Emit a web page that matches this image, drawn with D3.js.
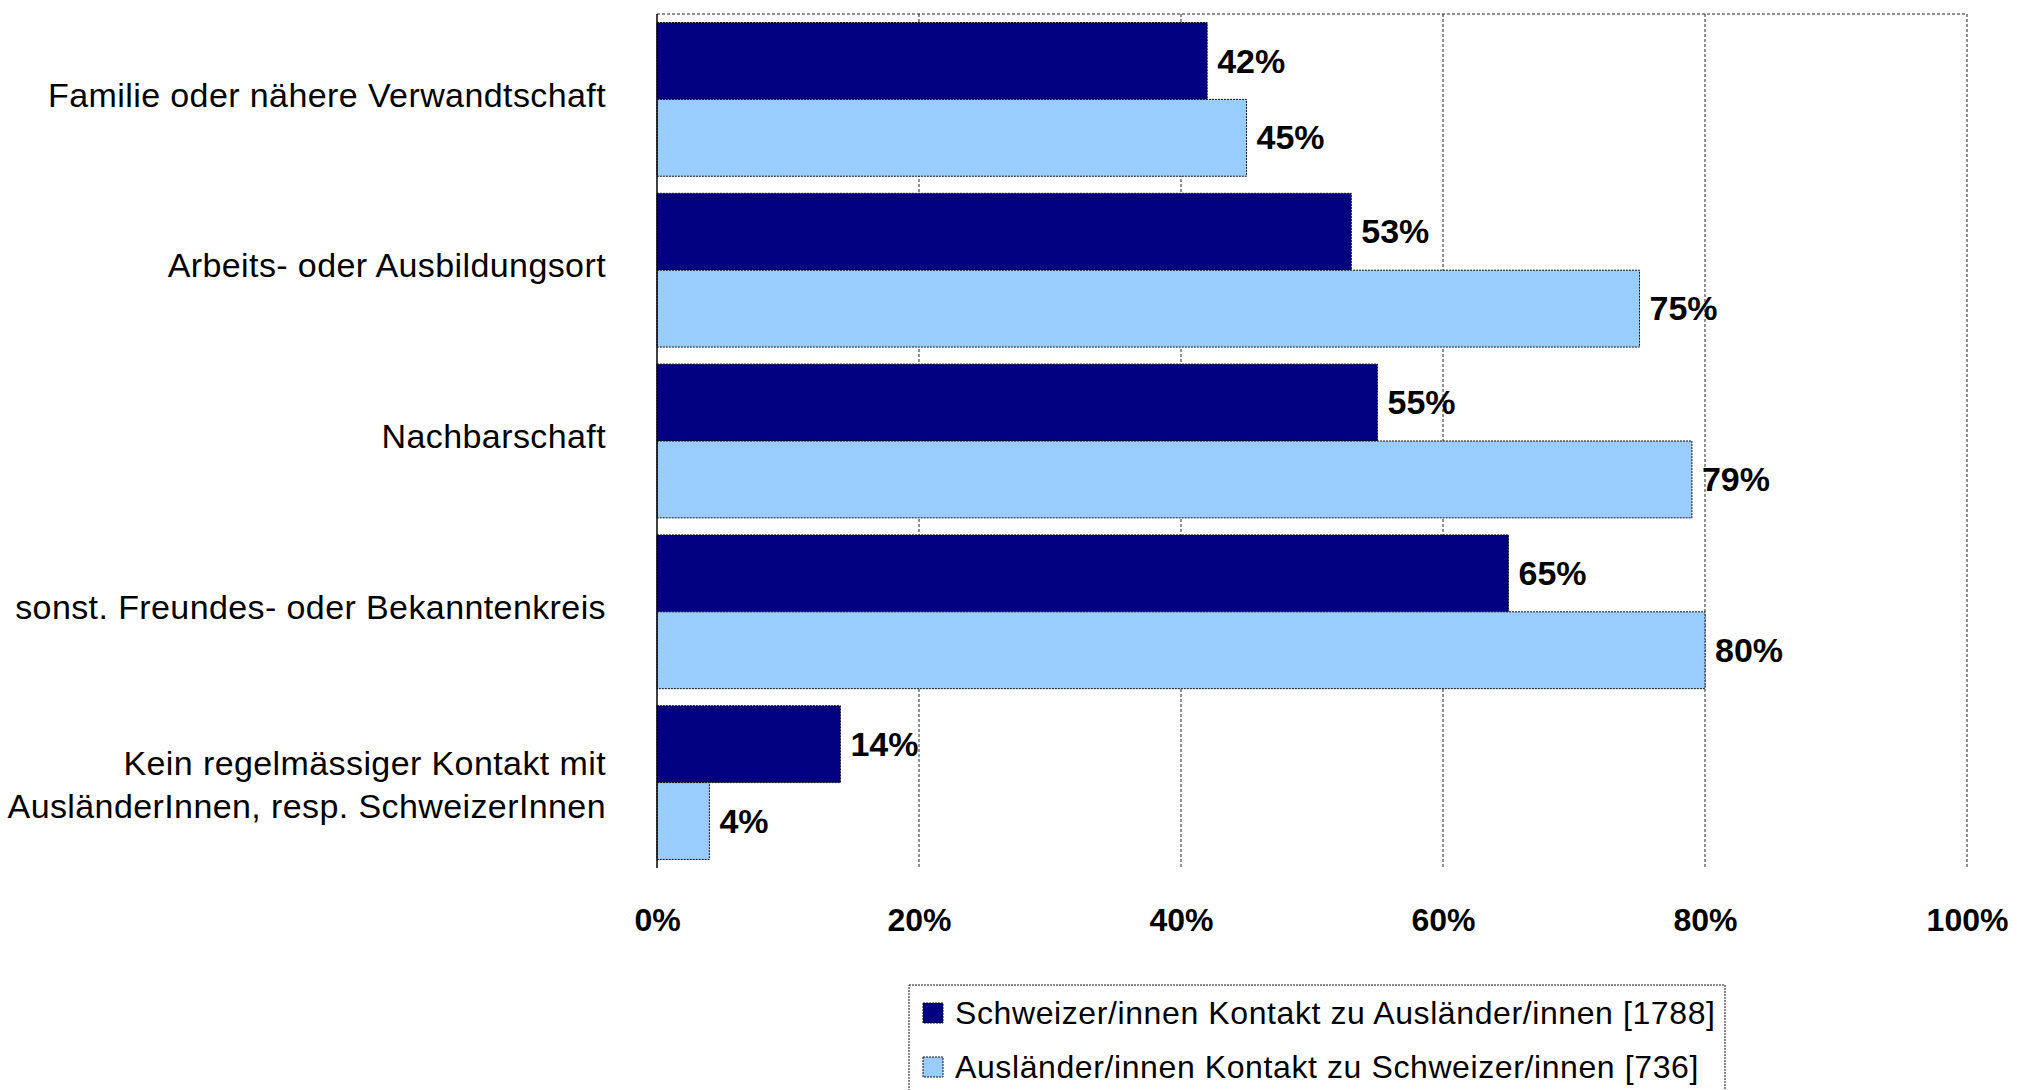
<!DOCTYPE html>
<html>
<head>
<meta charset="utf-8">
<script src="https://cdn.jsdelivr.net/npm/d3@7"></script>
<style>
  html, body { margin: 0; padding: 0; background: #fff; overflow: hidden; }
  svg { display: block; font-family: "Liberation Sans", Arial, sans-serif; }
</style>
</head>
<body>
<div id="chart"></div>
<script>
// ---------------------------------------------
// DATA
// ---------------------------------------------
const categories = [
  ["Familie oder nähere Verwandtschaft"],
  ["Arbeits- oder Ausbildungsort"],
  ["Nachbarschaft"],
  ["sonst. Freundes- oder Bekanntenkreis"],
  ["Kein regelmässiger Kontakt mit", "AusländerInnen, resp. SchweizerInnen"]
];
const seriesNames = [
  "Schweizer/innen Kontakt zu Ausländer/innen [1788]",
  "Ausländer/innen Kontakt zu Schweizer/innen [736]"
];
const swissValues   = [42, 53, 55, 65, 14];
const foreignValues = [45, 75, 79, 80, 4];
const xTicks = [0, 20, 40, 60, 80, 100];

const colors = ["#000080", "#99ccff"];

// ---------------------------------------------
// LAYOUT
// ---------------------------------------------
const W = 2017, H = 1090;
const plot = { left: 657, right: 1967, top: 14, bottom: 868 };

const svg = d3.select("#chart").append("svg")
  .attr("width", W)
  .attr("height", H);

svg.append("rect").attr("width", W).attr("height", H).attr("fill", "#fff");

const x = d3.scaleLinear()
  .domain([0, 100])
  .range([plot.left, plot.right]);

const y0 = d3.scaleBand()
  .domain(d3.range(categories.length))
  .range([plot.top, plot.bottom])
  .paddingInner(0.1)
  .paddingOuter(0.05);

const y1 = d3.scaleBand()
  .domain([0, 1])
  .range([0, y0.bandwidth()]);

// ---------------------------------------------
// GRID + FRAME
// ---------------------------------------------
const grid = svg.append("g");

grid.selectAll("line.v")
  .data(xTicks.slice(1))
  .enter().append("line")
  .attr("x1", d => x(d)).attr("x2", d => x(d))
  .attr("y1", plot.top).attr("y2", plot.bottom)
  .attr("stroke", "#222")
  .attr("stroke-width", 1)
  .attr("stroke-dasharray", "3,2");

grid.append("line")
  .attr("x1", plot.left).attr("x2", plot.right)
  .attr("y1", plot.top).attr("y2", plot.top)
  .attr("stroke", "#222")
  .attr("stroke-dasharray", "3,2");

// ---------------------------------------------
// BARS
// ---------------------------------------------
const rows = categories.map((c, i) => ({ i, vals: [swissValues[i], foreignValues[i]] }));

const groups = svg.selectAll(".grp")
  .data(rows)
  .enter().append("g")
  .attr("class", "grp")
  .attr("transform", d => `translate(0,${y0(d.i)})`);

const cells = groups.selectAll(".cell")
  .data(d => d.vals.map((v, s) => ({ s, v })))
  .enter().append("g");

cells.append("rect")
  .attr("x", x(0))
  .attr("y", d => y1(d.s))
  .attr("width", d => x(d.v) - x(0))
  .attr("height", y1.bandwidth())
  .attr("fill", d => colors[d.s])
  .attr("stroke", "#111")
  .attr("stroke-width", 1)
  .attr("stroke-dasharray", "2,1");

cells.append("text")
  .attr("x", d => x(d.v) + 10)
  .attr("y", d => y1(d.s) + y1.bandwidth() / 2)
  .attr("dy", "0.34em")
  .attr("font-size", 34)
  .attr("font-weight", "bold")
  .attr("fill", "#000")
  .text(d => d.v + "%");

// left axis line
svg.append("line")
  .attr("x1", plot.left).attr("x2", plot.left)
  .attr("y1", plot.top).attr("y2", plot.bottom)
  .attr("stroke", "#000")
  .attr("stroke-width", 1.5);

// ---------------------------------------------
// AXES
// ---------------------------------------------
const xAxis = d3.axisBottom(x)
  .tickValues(xTicks)
  .tickSize(0)
  .tickPadding(40)
  .tickFormat(d => d + "%");

const xg = svg.append("g")
  .attr("transform", `translate(0,${plot.bottom})`)
  .call(xAxis);
xg.select(".domain").remove();
xg.selectAll("text")
  .attr("font-size", 32)
  .attr("font-weight", "bold")
  .attr("font-family", "Liberation Sans, Arial, sans-serif")
  .attr("fill", "#000");

// category labels
const catLabels = svg.selectAll(".cat")
  .data(categories)
  .enter().append("text")
  .attr("class", "cat")
  .attr("text-anchor", "end")
  .attr("font-size", 34)
  .attr("letter-spacing", 0.4)
  .attr("fill", "#000")
  .attr("transform", (d, i) => `translate(606,${y0(i) + y0.bandwidth() / 2})`);

catLabels.selectAll("tspan")
  .data(d => d.map((t, k) => ({ t, k, n: d.length })))
  .enter().append("tspan")
  .attr("x", 0)
  .attr("y", d => d.n === 1 ? -5 : (d.k - (d.n - 1) / 2) * 43 + 2)
  .attr("dy", "0.36em")
  .text(d => d.t);

// ---------------------------------------------
// LEGEND
// ---------------------------------------------
const legend = svg.append("g").attr("transform", "translate(909,985)");

legend.append("rect")
  .attr("width", 816)
  .attr("height", 200)
  .attr("fill", "#fff")
  .attr("stroke", "#111")
  .attr("stroke-dasharray", "2,1");

const items = legend.selectAll(".item")
  .data(seriesNames)
  .enter().append("g")
  .attr("transform", (d, i) => `translate(14,${18 + i * 54})`);

items.append("rect")
  .attr("width", 20)
  .attr("height", 20)
  .attr("fill", (d, i) => colors[i])
  .attr("stroke", "#111")
  .attr("stroke-dasharray", "2,1");

items.append("text")
  .attr("x", 32)
  .attr("y", 21)
  .attr("font-size", 32)
  .attr("letter-spacing", 0.6)
  .attr("fill", "#000")
  .text(d => d);
</script>
</body>
</html>
